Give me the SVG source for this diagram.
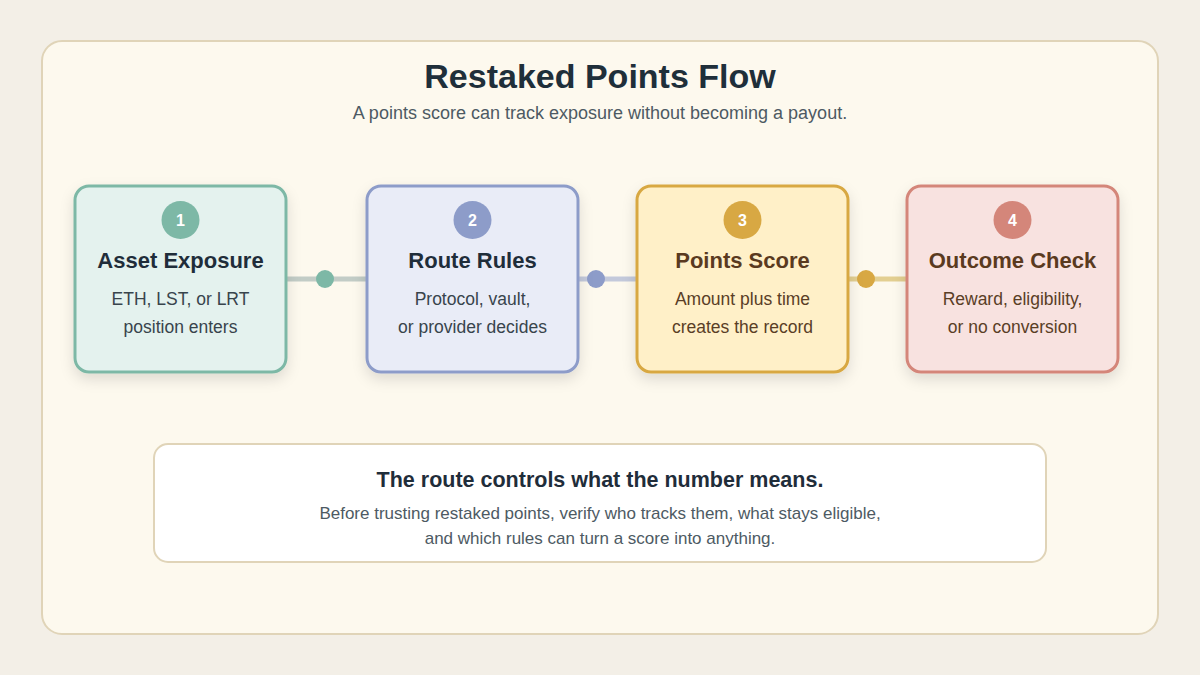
<svg xmlns="http://www.w3.org/2000/svg" width="1200" height="675" viewBox="0 0 1200 675">
<defs>
<filter id="sh" x="-20%" y="-20%" width="140%" height="150%"><feDropShadow dx="0" dy="6" stdDeviation="7" flood-color="#000" flood-opacity="0.12"/></filter>
<style>
text{font-family:"Liberation Sans",Arial,sans-serif;text-anchor:middle}
.t{font-size:22px;font-weight:bold}
.d{font-size:17.5px}
.n{font-size:16px;font-weight:bold;fill:#fff}
</style>
</defs>
<rect width="1200" height="675" fill="#f3efe7"/>
<rect x="42" y="41" width="1116" height="593" rx="20" fill="#fdf9ee" stroke="#e0d4b8" stroke-width="2"/>
<text x="600" y="88" font-size="34" font-weight="bold" fill="#1f2f3a">Restaked Points Flow</text>
<text x="600" y="119" font-size="18" fill="#4d5a63">A points score can track exposure without becoming a payout.</text>
<g id="connectors">
<line x1="286" y1="279" x2="367" y2="279" stroke="#c2ccc6" stroke-width="5"/>
<circle cx="325" cy="279" r="9" fill="#7db8a6"/>
<line x1="578" y1="279" x2="637" y2="279" stroke="#c3c9db" stroke-width="5"/>
<circle cx="596" cy="279" r="9" fill="#8d9cc9"/>
<line x1="848" y1="279" x2="907" y2="279" stroke="#e3cf91" stroke-width="5"/>
<circle cx="866" cy="279" r="9" fill="#d8a843"/>
</g>
<g id="n1">
<rect x="75" y="186" width="211" height="186" rx="14" fill="#e4f2ee" stroke="#7db8a6" stroke-width="3" filter="url(#sh)"/>
<circle cx="180.5" cy="220" r="19" fill="#7db8a6"/><text x="180.5" y="226" class="n">1</text>
<text x="180.5" y="268" class="t" fill="#1f2d3a">Asset Exposure</text>
<text x="180.5" y="305" class="d" fill="#38444c">ETH, LST, or LRT</text>
<text x="180.5" y="333" class="d" fill="#38444c">position enters</text>
</g>
<g id="n2">
<rect x="367" y="186" width="211" height="186" rx="14" fill="#e9ecf7" stroke="#8d9cc9" stroke-width="3" filter="url(#sh)"/>
<circle cx="472.5" cy="220" r="19" fill="#8d9cc9"/><text x="472.5" y="226" class="n">2</text>
<text x="472.5" y="268" class="t" fill="#1f2d3a">Route Rules</text>
<text x="472.5" y="305" class="d" fill="#38444c">Protocol, vault,</text>
<text x="472.5" y="333" class="d" fill="#38444c">or provider decides</text>
</g>
<g id="n3">
<rect x="637" y="186" width="211" height="186" rx="14" fill="#fff0c8" stroke="#d8a843" stroke-width="3" filter="url(#sh)"/>
<circle cx="742.5" cy="220" r="19" fill="#d8a843"/><text x="742.5" y="226" class="n">3</text>
<text x="742.5" y="268" class="t" fill="#5a3a1f">Points Score</text>
<text x="742.5" y="305" class="d" fill="#5a3e26">Amount plus time</text>
<text x="742.5" y="333" class="d" fill="#5a3e26">creates the record</text>
</g>
<g id="n4">
<rect x="907" y="186" width="211" height="186" rx="14" fill="#f8e2e0" stroke="#d4867a" stroke-width="3" filter="url(#sh)"/>
<circle cx="1012.5" cy="220" r="19" fill="#d4867a"/><text x="1012.5" y="226" class="n">4</text>
<text x="1012.5" y="268" class="t" fill="#5a3a1f">Outcome Check</text>
<text x="1012.5" y="305" class="d" fill="#5a3e26">Reward, eligibility,</text>
<text x="1012.5" y="333" class="d" fill="#5a3e26">or no conversion</text>
</g>
<g id="note">
<rect x="154" y="444" width="892" height="118" rx="14" fill="#ffffff" stroke="#e0d4b8" stroke-width="2"/>
<text x="600" y="487" font-size="21.5" font-weight="bold" fill="#1f2d3a">The route controls what the number means.</text>
<text x="600" y="519" font-size="17" fill="#4d5a63">Before trusting restaked points, verify who tracks them, what stays eligible,</text>
<text x="600" y="544" font-size="17" fill="#4d5a63">and which rules can turn a score into anything.</text>
</g>
</svg>
